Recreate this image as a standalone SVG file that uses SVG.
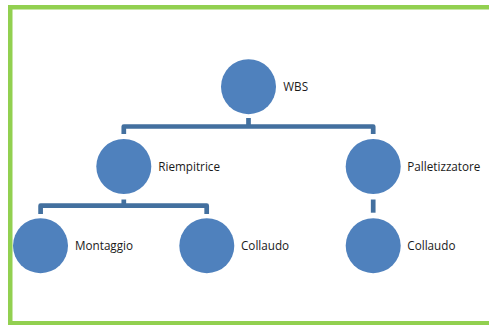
<svg xmlns="http://www.w3.org/2000/svg" width="489" height="325" viewBox="0 0 489 325">
  <style>
    .frame { fill: none; stroke: #92D050; stroke-width: 4.5; }
    .node circle { fill: #4F81BD; }
    .node text { font-family: "Open Sans", "Noto Sans", sans-serif; font-size: 11.7px; fill: #1a1a1a; }
    .link { fill: none; stroke: #43709F; stroke-width: 4.7; stroke-linejoin: round; }
  </style>
  <rect width="489" height="325" fill="#ffffff"/>
  <rect class="frame" x="10.25" y="7.25" width="500" height="316"/>

  <g id="connectors">
    <!-- WBS to level 1 -->
    <path class="link" d="M248.5,118 V126.5"/>
    <path class="link" d="M123.8,134 V126.5 H373.2 V134"/>
    <!-- Riempitrice to its children -->
    <path class="link" d="M123.8,199.5 V205.7"/>
    <path class="link" d="M40.6,214 V205.7 H206.7 V214"/>
    <!-- Palletizzatore to Collaudo -->
    <path class="link" d="M373.2,199.5 V212.7"/>
  </g>

  <g id="wbs" class="node">
    <circle cx="248.5" cy="86.7" r="27.5"/>
    <text x="283.3" y="90.7">WBS</text>
  </g>
  <g id="riempitrice" class="node">
    <circle cx="123.8" cy="166.5" r="27.5"/>
    <text x="158.3" y="171">Riempitrice</text>
  </g>
  <g id="palletizzatore" class="node">
    <circle cx="373.2" cy="166.5" r="27.5"/>
    <text x="407.3" y="171">Palletizzatore</text>
  </g>
  <g id="montaggio" class="node">
    <circle cx="40.5" cy="245.7" r="27.5"/>
    <text x="75" y="250">Montaggio</text>
  </g>
  <g id="collaudo-riempitrice" class="node">
    <circle cx="206.8" cy="245.7" r="27.5"/>
    <text x="241" y="250">Collaudo</text>
  </g>
  <g id="collaudo-palletizzatore" class="node">
    <circle cx="373.2" cy="245.7" r="27.5"/>
    <text x="407.3" y="250">Collaudo</text>
  </g>
</svg>
